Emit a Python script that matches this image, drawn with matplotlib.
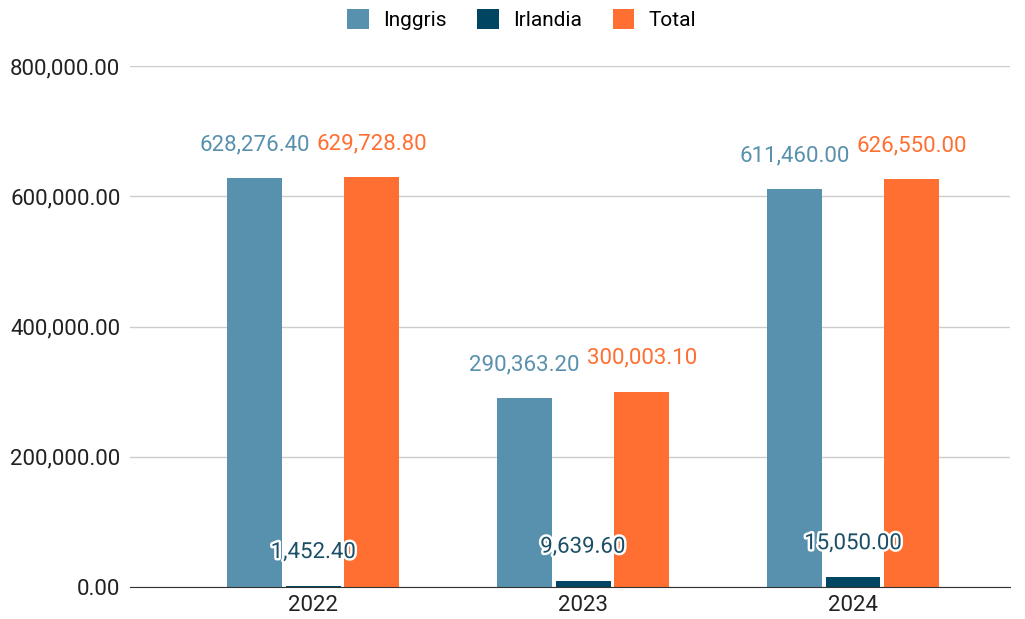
import numpy as np
import matplotlib
matplotlib.use("Agg")
import matplotlib.pyplot as plt
import matplotlib.patheffects as pe
from matplotlib.patches import Patch
from matplotlib.ticker import FuncFormatter

# data
years = ["2022", "2023", "2024"]
inggris = [628276.40, 290363.20, 611460.00]
irlandia = [1452.40, 9639.60, 15050.00]
total = [629728.80, 300003.10, 626550.00]

series_names = ["Inggris", "Irlandia", "Total"]
colors = ["#5891ad", "#004561", "#ff6f31"]
label_colors = ["#5891ad", "#1c4f66", "#ff6f31"]

plt.rcParams['font.family'] = ['Roboto', 'DejaVu Sans']

fig = plt.figure(figsize=(10.25, 6.19), dpi=100)
ax = fig.add_axes([0.127, 0.052, 0.858, 0.841])

x = np.arange(len(years))
width = 0.203
offset = 0.217

for i, (vals, name) in enumerate(zip([inggris, irlandia, total], series_names)):
    pos = x + (i - 1) * offset
    ax.bar(pos, vals, width, color=colors[i], label=name, zorder=3)
    for px_, v in zip(pos, vals):
        t = ax.annotate(f"{v:,.2f}", (px_, v), xytext=(0, 24), textcoords="offset points",
                        ha="center", va="center", fontsize=16, color=label_colors[i], zorder=5)
        if i == 1:
            t.set_path_effects([pe.withStroke(linewidth=3.5, foreground="white")])

ax.set_ylim(0, 800000)
ax.set_xlim(-0.678, 2.58)
ax.set_yticks(np.arange(0, 800001, 200000))
ax.yaxis.set_major_formatter(FuncFormatter(lambda v, p: f"{v:,.2f}"))
ax.set_xticks(x)
ax.set_xticklabels(years)
ax.tick_params(axis="both", length=0, labelsize=16, colors="#222222")
ax.tick_params(axis="y", pad=7)
ax.tick_params(axis="x", pad=6)
ax.grid(axis="y", color="#cccccc", linewidth=1, zorder=0)
for s in ["top", "right", "left"]:
    ax.spines[s].set_visible(False)
ax.spines["bottom"].set_color("#333333")
ax.spines["bottom"].set_zorder(4)

handles = [Patch(facecolor=c, label=n) for c, n in zip(colors, series_names)]
fig.legend(handles=handles, loc="center", bbox_to_anchor=(0.509, 0.968), ncol=3, frameon=False,
           fontsize=15, handlelength=1.05, handleheight=1.05, columnspacing=1.45, handletextpad=0.7)

fig.savefig("out.png", dpi=100)
